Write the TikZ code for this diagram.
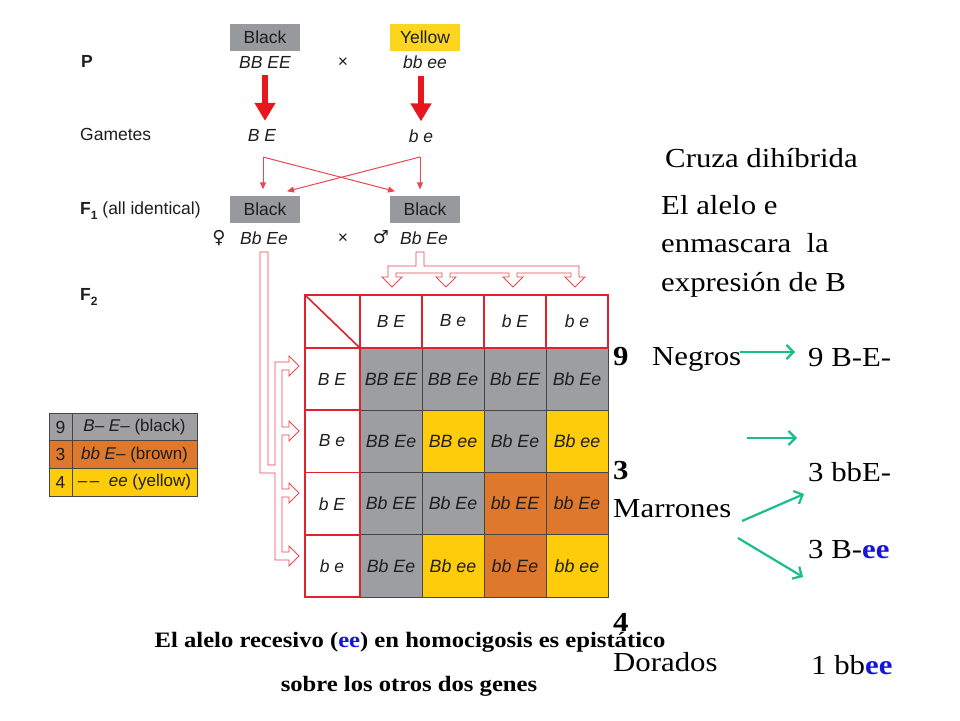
\documentclass[tikz,border=0pt]{standalone}
\usepackage{fontspec}
\setmainfont{Liberation Sans}
\newfontfamily\tnr[FakeStretch=1.12]{Liberation Serif}
\newfontfamily\symf{DejaVu Sans}
\usetikzlibrary{arrows.meta}
\definecolor{boxgray}{RGB}{152,153,156}
\definecolor{cellgray}{RGB}{157,158,161}
\definecolor{leggray}{RGB}{160,160,163}
\definecolor{boxyellow}{RGB}{252,214,30}
\definecolor{cellyellow}{RGB}{254,204,10}
\definecolor{cellorange}{RGB}{222,120,45}
\definecolor{framered}{RGB}{228,32,44}
\definecolor{arrred}{RGB}{232,22,30}
\definecolor{thinred}{RGB}{236,70,80}
\definecolor{arrteal}{RGB}{26,190,140}
\definecolor{txtblue}{RGB}{20,20,220}
\definecolor{txtdark}{RGB}{30,30,30}
\definecolor{gridgray}{RGB}{70,70,70}
\newcommand\pcell[4]{\node[cell, fill=#4] (c#1#2) at ({360+62*(#1-0.5)},{348+62.25*(#2-0.5)}) {#3};}
\begin{document}
\begin{tikzpicture}[x=1pt,y=-1pt,
  lab/.style={font=\fontsize{17.5}{21}\selectfont, inner sep=0, text=txtdark},
  gen/.style={font=\fontsize{17.5}{21}\selectfont\itshape, inner sep=0, text=txtdark},
  pbox/.style={minimum width=70pt, minimum height=27pt, inner sep=0, font=\fontsize{17.5}{21}\selectfont, text=txtdark},
  cell/.style={draw=gridgray, line width=0.8pt, minimum width=62pt, minimum height=62.25pt, inner sep=0, font=\fontsize{17.8}{21}\selectfont\itshape, text=txtdark},
  hdr/.style={inner sep=0, font=\fontsize{17.5}{21}\selectfont\itshape, text=txtdark},
  legnum/.style={draw=gridgray, line width=0.8pt, minimum width=23pt, minimum height=27.7pt, inner sep=0, font=\fontsize{17.5}{21}\selectfont, text=txtdark},
  legtxt/.style={draw=gridgray, line width=0.8pt, minimum width=125pt, minimum height=27.7pt, inner sep=0, font=\fontsize{17}{21}\selectfont, text=txtdark},
  rtxt/.style={font=\tnr\fontsize{27.5}{32}\selectfont, inner sep=0, anchor=base west},
  btxt/.style={font=\tnr\bfseries\fontsize{22}{26}\selectfont, inner sep=0, anchor=base},
  bigarrow/.style={draw=arrred, line width=6pt, -{Triangle[length=18pt,width=20pt]}},
  thinarrow/.style={draw=thinred, line width=1pt, -{Triangle[length=7pt,width=6pt]}},
  hollow/.style={draw=thinred, line width=0.9pt, fill=white, line join=miter},
  greenarrow/.style={draw=arrteal, line width=2.2pt, -{Straight Barb[length=7pt,width=14pt]}},
  redframe/.style={draw=framered, line width=1.6pt}
]
\useasboundingbox (0,0) rectangle (960,720);
\fill[white] (0,0) rectangle (960,720);

% left labels
\node[lab, font=\bfseries\fontsize{17.5}{21}\selectfont, anchor=west] (lP) at (81,61) {P};
\node[lab, anchor=west] (lG) at (80,134) {Gametes};
\node[lab, anchor=west] (lF1) at (80,211) {{\bfseries F\raisebox{-0.3em}{\fontsize{12}{12}\selectfont 1}} (all identical)};
\node[lab, anchor=west] (lF2) at (80,297) {{\bfseries F\raisebox{-0.3em}{\fontsize{12}{12}\selectfont 2}}};

% P generation
\node[pbox, fill=boxgray] (bP) at (265,37) {Black};
\node[pbox, fill=boxyellow] (yP) at (425,37) {Yellow};
\node[gen] (gP1) at (265,62) {BB EE};
\node[gen] (gP2) at (425,62) {bb ee};
\node[lab] (xP) at (343,63) {×};

% gametes
\node[gen] (gBE) at (262,135) {B E};
\node[gen] (gbe) at (421,136) {b e};
\draw[bigarrow, shorten >=8pt] (gP1.south) ++(0,7) coordinate (bs1) -- (bs1 |- gBE.north) coordinate (be1);
\draw[bigarrow, shorten >=8pt] (gP2.south -| gbe.north) ++(0,7) coordinate (bs2) -- (gbe.north) coordinate (be2);

% F1
\node[pbox, fill=boxgray] (bF1) at (265,209) {Black};
\node[pbox, fill=boxgray] (bF2) at (425,209) {Black};
\node[lab, font=\symf\fontsize{18}{21}\selectfont] (fem) at (219,238) {♀};
\node[gen] (gF1) at (264,238) {Bb Ee};
\node[lab] (xF) at (343,239) {×};
\node[lab, font=\symf\fontsize{18}{21}\selectfont] (mal) at (381,237) {♂};
\node[gen] (gF2) at (424,238) {Bb Ee};

% crossing arrows
\coordinate (cL) at (263,157);
\coordinate (cR) at (420,157);
\draw[thinarrow, shorten >=6pt] (cL) -- (cL |- bF1.north);
\draw[thinarrow, shorten >=6pt] (cR) -- (cR |- bF2.north);
\draw[thinarrow] (cL) -- ([xshift=-30pt,yshift=4pt]bF2.north);
\draw[thinarrow] (cR) -- ([xshift=22pt,yshift=4pt]bF1.north);

% hollow arrows (top)
\draw[hollow] (416,252) -- (424,252) -- (424,266) -- (579,266) -- (579,277) -- (585,277) -- (575,287) -- (565,277) -- (571,277) -- (571,273)
  -- (517,273) -- (517,277) -- (523,277) -- (513,287) -- (503,277) -- (509,277) -- (509,273)
  -- (450,273) -- (450,277) -- (456,277) -- (446,287) -- (436,277) -- (442,277) -- (442,273)
  -- (396,273) -- (396,277) -- (402,277) -- (392,287) -- (382,277) -- (388,277) -- (388,266) -- (416,266) -- cycle;
% hollow arrows (left)
\draw[hollow] (260,252) -- (268,252) -- (268,465) -- (275,465) -- (275,362) -- (289,362) -- (289,356) -- (299,366) -- (289,376) -- (289,370) -- (282,370)
  -- (282,427) -- (289,427) -- (289,421) -- (299,431) -- (289,441) -- (289,435) -- (282,435)
  -- (282,489) -- (289,489) -- (289,483) -- (299,493) -- (289,503) -- (289,497) -- (282,497)
  -- (282,552) -- (289,552) -- (289,546) -- (299,556) -- (289,566) -- (289,560) -- (275,560)
  -- (275,473) -- (260,473) -- cycle;

% Punnett cells
\pcell{1}{1}{BB EE}{cellgray}
\pcell{2}{1}{BB Ee}{cellgray}
\pcell{3}{1}{Bb EE}{cellgray}
\pcell{4}{1}{Bb Ee}{cellgray}
\pcell{1}{2}{BB Ee}{cellgray}
\pcell{2}{2}{BB ee}{cellyellow}
\pcell{3}{2}{Bb Ee}{cellgray}
\pcell{4}{2}{Bb ee}{cellyellow}
\pcell{1}{3}{Bb EE}{cellgray}
\pcell{2}{3}{Bb Ee}{cellgray}
\pcell{3}{3}{bb EE}{cellorange}
\pcell{4}{3}{bb Ee}{cellorange}
\pcell{1}{4}{Bb Ee}{cellgray}
\pcell{2}{4}{Bb ee}{cellyellow}
\pcell{3}{4}{bb Ee}{cellorange}
\pcell{4}{4}{bb ee}{cellyellow}

% red frame
\draw[redframe] (305,295) rectangle (608,348);
\draw[redframe] (305,295) rectangle (360,597);
\draw[redframe] (305,295) -- (360,348);
\foreach \xx in {422,484,546} \draw[redframe] (\xx,295) -- (\xx,348);
\foreach \yy in {410.25,472.5,534.75} \draw[redframe] (305,\yy) -- (360,\yy);

% headers
\node[hdr] (h1) at (391,321) {B E};
\node[hdr] (h2) at (453,321) {B e};
\node[hdr] (h3) at (515,321) {b E};
\node[hdr] (h4) at (577,321) {b e};
\node[hdr] (v1) at (332,379) {B E};
\node[hdr] (v2) at (332,441) {B e};
\node[hdr] (v3) at (332,504) {b E};
\node[hdr] (v4) at (332,566) {b e};

% legend
\node[legnum, fill=leggray] (l9) at (60.5,427) {9};
\node[legtxt, fill=leggray] (l9t) at (134.5,427) {\itshape B– E–\upshape\ (black)};
\node[legnum, fill=cellorange] (l3) at (60.5,454.7) {3};
\node[legtxt, fill=cellorange] (l3t) at (134.5,454.7) {\itshape bb E–\upshape\ (brown)};
\node[legnum, fill=cellyellow] (l4) at (60.5,482.4) {4};
\node[legtxt, fill=cellyellow] (l4t) at (134.5,482.4) {\itshape –\kern2.5pt–\ \ ee\upshape\ (yellow)};

% right texts
\node[rtxt] (cruza) at (665,167) {Cruza dihíbrida};
\node[rtxt] (al1) at (661,214) {El alelo e};
\node[rtxt] (al2) at (661,252) {enmascara\ \ la};
\node[rtxt] (al3) at (661,291) {expresión de B};
\node[rtxt] (n9) at (613,365) {\bfseries 9};
\node[rtxt] (negros) at (652,365) {Negros};
\node[rtxt] (r9) at (808,366) {9 B-E-};
\node[rtxt] (n3) at (613,479) {\bfseries 3};
\node[rtxt] (marr) at (613,517) {Marrones};
\node[rtxt] (r3a) at (808,481) {3 bbE-};
\node[rtxt] (r3b) at (808,558) {3 B-\textcolor{txtblue}{\bfseries ee}};
\node[rtxt] (n4) at (613,631) {\bfseries 4};
\node[rtxt] (dor) at (613,671) {Dorados};
\node[rtxt] (r1) at (811,674) {1 bb\textcolor{txtblue}{\bfseries ee}};

% green arrows
\coordinate (g1a) at (740,352); \coordinate (g1b) at (795,352);
\coordinate (g2a) at (747,438); \coordinate (g2b) at (797,438);
\coordinate (g3a) at (742,521); \coordinate (g3b) at (804,494);
\coordinate (g4a) at (738,538); \coordinate (g4b) at (803,577);
\draw[greenarrow] (g1a) -- (g1b);
\draw[greenarrow] (g2a) -- (g2b);
\draw[greenarrow] (g3a) -- (g3b);
\draw[greenarrow] (g4a) -- (g4b);

% bottom text
\node[btxt] (bot1) at (410,647) {El alelo recesivo (\textcolor{txtblue}{ee}) en homocigosis es epistático};
\node[btxt] (bot2) at (409,691) {sobre los otros dos genes};
\end{tikzpicture}
\end{document}
